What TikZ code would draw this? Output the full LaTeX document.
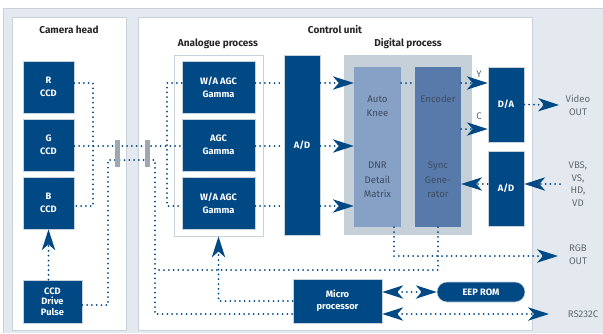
\documentclass[tikz,border=0pt]{standalone}
\usepackage{fontspec}
\setmainfont{Fira Sans}
\usetikzlibrary{arrows.meta}

\definecolor{navy}{RGB}{0,73,133}
\definecolor{bgblue}{RGB}{227,233,238}
\definecolor{panelline}{RGB}{200,210,218}
\definecolor{digigray}{RGB}{198,208,216}
\definecolor{kneeblue}{RGB}{135,160,198}
\definecolor{encblue}{RGB}{88,122,170}
\definecolor{coltext}{RGB}{62,75,95}
\definecolor{labelgray}{RGB}{95,105,115}
\definecolor{pluggray}{RGB}{158,168,176}

\begin{document}
\begin{tikzpicture}[x=1pt,y=-1pt]

\tikzset{blk/.style={fill=navy,draw=panelline,line width=0.6pt,text=white,inner sep=0pt,
  font=\fontsize{9.3}{13}\selectfont\bfseries,align=center},
colbox/.style={inner sep=0pt,minimum width=47pt,minimum height=160pt},
coltxt/.style={text=coltext,font=\fontsize{9.6}{14.5}\selectfont,align=center},
heading/.style={text=black!85,font=\fontsize{10}{10}\selectfont\bfseries},
outlbl/.style={text=labelgray,font=\fontsize{9.6}{12.7}\selectfont,align=center},
plug/.style={fill=pluggray,inner sep=0pt,minimum width=5pt,minimum height=27pt},
dots/.style={navy,line width=2pt,line cap=round,dash pattern=on 0pt off 4.8pt},
headtip/.style={-{Stealth[length=21pt,width=13.5pt,inset=6pt,line width=0pt]}},
twotip/.style={{Stealth[length=21pt,width=13.5pt,inset=6pt,line width=0pt]}-{Stealth[length=21pt,width=13.5pt,inset=6pt,line width=0pt]}}}

\useasboundingbox (0,0) rectangle (603,333);

% panels
\fill[bgblue] (3,8) rectangle (603,333);
\draw[panelline,line width=0.8pt] (3,333) -- (3,8) -- (603,8);
\draw[panelline,fill=white,line width=1pt] (12,17) rectangle (126,330);
\draw[panelline,fill=white,line width=1pt] (138,17) rectangle (532,330);

\node[heading] (camhead) at (69,30) {Camera head};
\node[heading] (ctrlunit) at (335,30) {Control unit};
\node[heading] (anlbl) at (218,44) {Analogue process};
\node[heading] (digilbl) at (408,44) {Digital process};

% camera head
\node[blk,minimum width=51pt,minimum height=52pt] (rccd) at (48.5,87) {R\\CCD};
\node[blk,minimum width=51pt,minimum height=52pt] (gccd) at (48.5,145) {G\\CCD};
\node[blk,minimum width=51pt,minimum height=52pt] (bccd) at (48.5,203) {B\\CCD};
\node[blk,minimum width=59pt,minimum height=43pt,font=\fontsize{9.3}{10.6}\selectfont\bfseries] (drive) at (52.5,301.5) {CCD\\Drive\\Pulse};

% analogue process
\node[draw=panelline,line width=1pt,fill=white,minimum width=89pt,minimum height=181pt,inner sep=0pt] (anbox) at (218.5,145.5) {};
\node[blk,minimum width=73pt,minimum height=52pt] (wa1) at (218.5,87) {W/A AGC\\Gamma};
\node[blk,minimum width=73pt,minimum height=52pt] (agc) at (218.5,145) {AGC\\Gamma};
\node[blk,minimum width=73pt,minimum height=52pt] (wa2) at (218.5,203) {W/A AGC\\Gamma};

\node[blk,minimum width=36pt,minimum height=180pt] (adc) at (302,145) {A/D};

% digital process
\node[fill=digigray,inner sep=0pt,minimum width=128pt,minimum height=180pt] (digi) at (408,145) {};
\node[colbox,fill=kneeblue] (knee) at (377.5,147) {};
\node[colbox,fill=encblue,minimum width=46pt] (enc) at (438,147) {};
\node[coltxt] (autoknee) at (377.5,106) {Auto\\Knee};
\node[coltxt] (dnr) at (377.5,180) {DNR\\Detail\\Matrix};
\node[coltxt] (encoder) at (438,99) {Encoder};
\node[coltxt] (syncgen) at (438,180) {Sync\\Gene-\\rator};

\node[blk,minimum width=36pt,minimum height=75pt] (dac) at (506,104.5) {D/A};
\node[blk,minimum width=36pt,minimum height=75pt] (adc2) at (506,188.5) {A/D};

\node[blk,minimum width=89pt,minimum height=44pt,font=\fontsize{9.3}{12.5}\selectfont\bfseries] (micro) at (337.5,301) {Micro\\processor};
\node[blk,rounded corners=10pt,minimum width=88pt,minimum height=20pt] (eep) at (481,292) {EEP ROM};

% outside labels
\node[outlbl] (videoout) at (578,105) {Video\\OUT};
\node[outlbl] (vbs) at (578,184) {VBS,\\VS,\\HD,\\VD};
\node[outlbl] (rgbtxt) at (578,255) {RGB\\OUT};
\node[outlbl] (rstxt) at (583,314) {RS232C};
\node[outlbl] (ylbl) at (479,74) {Y};
\node[outlbl] (clbl) at (479,116) {C};

% rows and buses
\coordinate (ya) at (0,83);
\coordinate (yb) at (0,146);
\coordinate (yc) at (0,206);
\coordinate (yd) at (0,305);
\coordinate (ye) at (0,160);
\coordinate (yf) at (0,270);
\coordinate (yg) at (0,314);
\coordinate (yk) at (0,129);
\coordinate (yv) at (0,184);
\coordinate (xrb) at (93,0);
\coordinate (xan) at (167,0);
\coordinate (xca) at (108,0);
\coordinate (xcb) at (155,0);
\coordinate (xk) at (394,0);
\coordinate (vidout) at (559,105);
\coordinate (vbsin) at (560,184);
\coordinate (rgbout) at (558,256);
\coordinate (rsout) at (549,314);

% connectors
\draw[dots] (rccd.east|-ya) -| (xrb|-yc) -- (bccd.east|-yc);
\draw[dots] (gccd.east|-yb) -- (agc.west|-yb);
\draw[dots] (wa1.west|-ya) -| (xan|-yc) -- (wa2.west|-yc);
\draw[dots] (drive.east|-yd) -| (xca|-ye) -- (xcb|-ye) |- (micro.west|-yg);
\draw[dots] (enc.south) |- (xcb|-yf);
\draw[dots,headtip] (xk|-knee.south) |- (rgbout);
\draw[dots,headtip] (micro.west) -| (anbox.south);
\draw[dots,headtip] (drive.north-|bccd.south) -- (bccd.south);

\foreach \b/\r in {wa1/ya,agc/yb,wa2/yc}{
  \draw[dots] (\b.east|-\r) -- (adc.west|-\r);
  \draw[dots,headtip] (adc.east|-\r) -- (knee.west|-\r);
}
\draw[dots] (knee.east|-ya) -- (enc.west|-ya);
\draw[dots,headtip] (enc.east|-ya) -- (dac.west|-ya);
\draw[dots,headtip] (enc.east|-yk) -- (dac.west|-yk);
\draw[dots,headtip] (dac.east) -- (vidout);
\draw[dots,headtip] (vbsin) -- (adc2.east|-yv);
\draw[dots,headtip] (adc2.west|-yv) -- (enc.east|-yv);
\draw[dots,twotip] (micro.east|-eep.west) -- (eep.west);
\draw[dots,twotip] (micro.east|-yg) -- (rsout);

% cable plugs
\node[plug] (plugl) at (117,153.5) {};
\node[plug] (plugr) at (147,153.5) {};

\end{tikzpicture}
\end{document}
